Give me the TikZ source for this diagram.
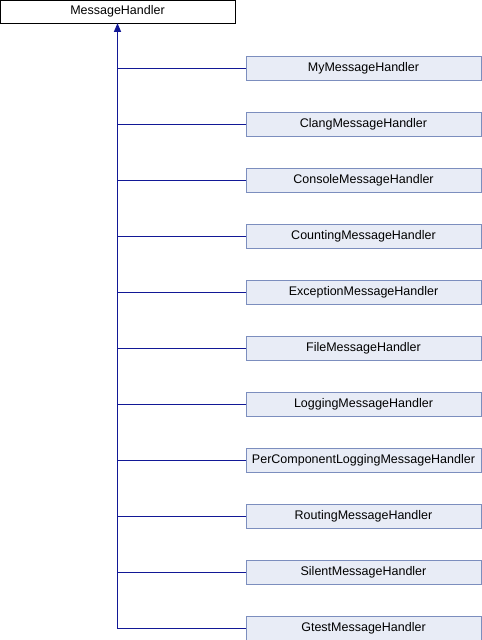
\documentclass[tikz,border=0pt]{standalone}
\usepackage{fontspec}
\setmainfont{Liberation Sans}
\usepackage[usenames]{xcolor}
\usepackage{tikz}
\usetikzlibrary{arrows}

\definecolor{edgeblue}{RGB}{18,24,150}
\definecolor{boxfill}{RGB}{232,236,246}
\definecolor{boxline}{RGB}{124,142,190}

\tikzset{
  baseclass/.style={draw=black,fill=white,minimum width=235pt,minimum height=23pt,inner sep=0pt,font=\fontsize{12.5}{15}\selectfont},
  derived/.style={draw=boxline,fill=boxfill,minimum width=235pt,minimum height=24pt,inner sep=0pt,font=\fontsize{12.5}{15}\selectfont},
  inherit/.style={draw=edgeblue,line width=1pt,->}
}

\begin{document}
\begin{tikzpicture}[line cap=butt,line join=miter,>=triangle 45,x=1pt,y=-1pt]
\useasboundingbox (0,0) rectangle (482,640);
\node[baseclass] (handler) at (117.5,11.5) {MessageHandler};
\node[derived] (my) at (363.5,68) {MyMessageHandler};
\node[derived] (clang) at (363.5,124) {ClangMessageHandler};
\node[derived] (console) at (363.5,180) {ConsoleMessageHandler};
\node[derived] (counting) at (363.5,236) {CountingMessageHandler};
\node[derived] (exception) at (363.5,292) {ExceptionMessageHandler};
\node[derived] (file) at (363.5,348) {FileMessageHandler};
\node[derived] (logging) at (363.5,404) {LoggingMessageHandler};
\node[derived] (percomp) at (363.5,460) {PerComponentLoggingMessageHandler};
\node[derived] (routing) at (363.5,516) {RoutingMessageHandler};
\node[derived] (silent) at (363.5,572) {SilentMessageHandler};
\node[derived] (gtest) at (363.5,628) {GtestMessageHandler};
\draw[inherit] (gtest.west) -| (handler.south);
\draw[edgeblue,line width=1pt] (my.west) -- (my.west -| handler.south);
\draw[edgeblue,line width=1pt] (clang.west) -- (clang.west -| handler.south);
\draw[edgeblue,line width=1pt] (console.west) -- (console.west -| handler.south);
\draw[edgeblue,line width=1pt] (counting.west) -- (counting.west -| handler.south);
\draw[edgeblue,line width=1pt] (exception.west) -- (exception.west -| handler.south);
\draw[edgeblue,line width=1pt] (file.west) -- (file.west -| handler.south);
\draw[edgeblue,line width=1pt] (logging.west) -- (logging.west -| handler.south);
\draw[edgeblue,line width=1pt] (percomp.west) -- (percomp.west -| handler.south);
\draw[edgeblue,line width=1pt] (routing.west) -- (routing.west -| handler.south);
\draw[edgeblue,line width=1pt] (silent.west) -- (silent.west -| handler.south);
\end{tikzpicture}
\end{document}
